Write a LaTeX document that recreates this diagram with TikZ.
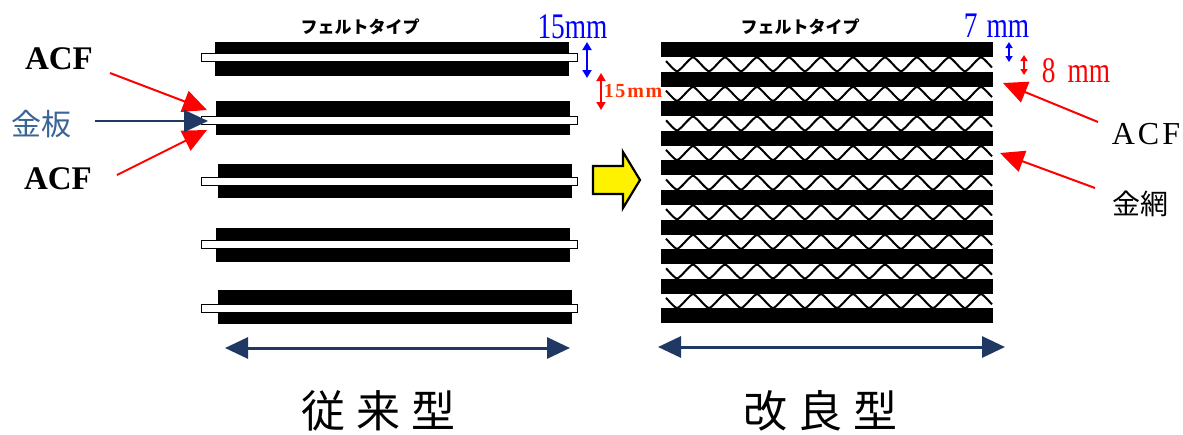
\documentclass[tikz,border=0pt]{standalone}
\usepackage{fontspec}
\setmainfont{Liberation Serif}
\newfontfamily\jp{Noto Sans CJK JP}
\usetikzlibrary{arrows.meta}
\definecolor{navy}{HTML}{1F3864}
\definecolor{plateblue}{HTML}{3A6496}
\definecolor{dimred}{HTML}{FF3300}
\newcommand{\fsz}[1]{\fontsize{#1}{#1}\selectfont}

\begin{document}
\begin{tikzpicture}[x=1pt,y=-1pt,
  feltbar/.style={fill=black, draw=none, inner sep=0pt, minimum height=34pt, minimum width=354pt},
  plate/.style={fill=white, draw=black, line width=0.8pt, inner sep=0pt, minimum height=8pt, minimum width=376pt},
  acfbar/.style={fill=black, draw=none, inner sep=0pt, minimum height=15pt, minimum width=332pt},
  mesh/.style={line width=2pt, black, line join=round},
  callout/.style={red, line width=2pt, -{Triangle[length=24pt,width=22pt]}},
  platecall/.style={navy, line width=2pt, -{Triangle[length=24pt,width=22pt]}},
  span/.style={navy, line width=3pt, {Triangle[length=23pt,width=21pt]}-{Triangle[length=23pt,width=21pt]}},
  dimbig/.style={line width=1.8pt, {Triangle[length=8pt,width=9pt]}-{Triangle[length=8pt,width=9pt]}},
  dimsmall/.style={line width=1.6pt, {Triangle[length=6pt,width=7pt]}-{Triangle[length=6pt,width=7pt]}},
  title/.style={font=\jp\bfseries\fsz{17}, inner sep=0pt},
  dimlabel/.style={font=\fsz{36}, inner sep=0pt, anchor=base},
  caption/.style={font=\jp\fsz{44}, inner sep=0pt},
]
\useasboundingbox (0,0) rectangle (1183,434);

% ---------- conventional stack: felt layers with gold plates ----------
\foreach \i/\yc/\ys/\xc in {1/59/57.5/392, 2/118/120.5/393, 3/180.5/181.5/395, 4/245/244.5/393, 5/306.5/308/395} {
  \node[feltbar] (L\i) at (\xc,\yc) {};
  \node[plate] (P\i) at (389,\ys) {};
}
\node[title] (titleL) at (360,27) {フェルトタイプ};

% ---------- improved stack: ACF layers with wire mesh between ----------
\foreach \i in {0,...,9} {
  \pgfmathsetmacro{\yc}{49.5+29.6*\i}
  \node[acfbar] (R\i) at (827,\yc) {};
}
\foreach \i in {0,...,8} {
  \pgfmathsetmacro{\m}{64.3+29.6*\i}
  \draw[mesh] plot[domain=666:992, samples=170]
    (\x, {\m - 7.3*(0.35*sin((\x-693)*11.25+90) + 0.65*asin(sin((\x-693)*11.25+90))/90)});
}
\node[title] (titleR) at (800,27) {フェルトタイプ};

% ---------- width arrows under both stacks ----------
\coordinate (spanLa) at (225,348);
\coordinate (spanLb) at (570,348);
\coordinate (spanRa) at (658,347);
\coordinate (spanRb) at (1005,347);
\draw[span] (spanLa) -- (spanLb);
\draw[span] (spanRa) -- (spanRb);

% ---------- captions ----------
\node[caption] (capL) at (378,411) {従\hspace{11pt}来\hspace{11pt}型};
\node[caption] (capR) at (820,411) {改\hspace{11pt}良\hspace{11pt}型};

% ---------- yellow transition arrow ----------
\draw[fill=yellow, line width=2.2pt, line join=miter]
  (593,166) -- (623,166) -- (623,152) -- (640,180) -- (623,208) -- (623,194) -- (593,194) -- cycle;

% ---------- left callouts ----------
\node[font=\bfseries\fsz{33}, inner sep=0pt] (acfL1) at (59,59) {ACF};
\node[font=\bfseries\fsz{33}, inner sep=0pt] (acfL2) at (58,179) {ACF};
\node[font=\jp\fsz{30}, text=plateblue, inner sep=0pt] (kinban) at (41,124) {金板};
\coordinate (acfL1a) at (110,73);
\coordinate (acfL1b) at (207,110);
\coordinate (acfL2a) at (117,175);
\coordinate (acfL2b) at (207,130);
\coordinate (kinbana) at (95,121);
\coordinate (kinbanb) at (208,121);
\draw[callout] (acfL1a) -- (acfL1b);
\draw[callout] (acfL2a) -- (acfL2b);
\draw[platecall] (kinbana) -- (kinbanb);

% ---------- left dimensions ----------
\node[dimlabel, text=blue] (dimL1) at (572.5,38) {\scalebox{0.76}[1]{15mm}};
\coordinate (dL1a) at (587,42);
\coordinate (dL1b) at (587,78);
\draw[dimbig, blue] (dL1a) -- (dL1b);
\node[font=\bfseries\fsz{20}, text=dimred, inner sep=0pt] (dimL2) at (633,91) {1\hspace{1.5pt}5\hspace{2pt}m\hspace{1.5pt}m};
\coordinate (dL2a) at (601,73);
\coordinate (dL2b) at (601,110);
\draw[dimbig, red] (dL2a) -- (dL2b);

% ---------- right dimensions ----------
\node[dimlabel, text=blue] (dimR1) at (996.5,37) {\scalebox{0.76}[1]{7\hspace{12pt}mm}};
\coordinate (dR1a) at (1009,42);
\coordinate (dR1b) at (1009,62);
\draw[dimsmall, blue] (dR1a) -- (dR1b);
\node[dimlabel, text=red] (dimR2) at (1076,82) {\scalebox{0.76}[1]{8\hspace{16pt}mm}};
\coordinate (dR2a) at (1024,55);
\coordinate (dR2b) at (1024,75);
\draw[dimsmall, red] (dR2a) -- (dR2b);

% ---------- right callouts ----------
\node[font=\fsz{32}, inner sep=0pt] (acfR) at (1146,134) {A\hspace{3pt}C\hspace{3pt}F};
\node[font=\jp\fsz{28}, inner sep=0pt] (kinmou) at (1140,204) {金網};
\coordinate (acfRa) at (1098,122);
\coordinate (acfRb) at (1003,83);
\coordinate (kinmoua) at (1095,188);
\coordinate (kinmoub) at (1000,153);
\draw[callout] (acfRa) -- (acfRb);
\draw[callout] (kinmoua) -- (kinmoub);
\end{tikzpicture}
\end{document}
